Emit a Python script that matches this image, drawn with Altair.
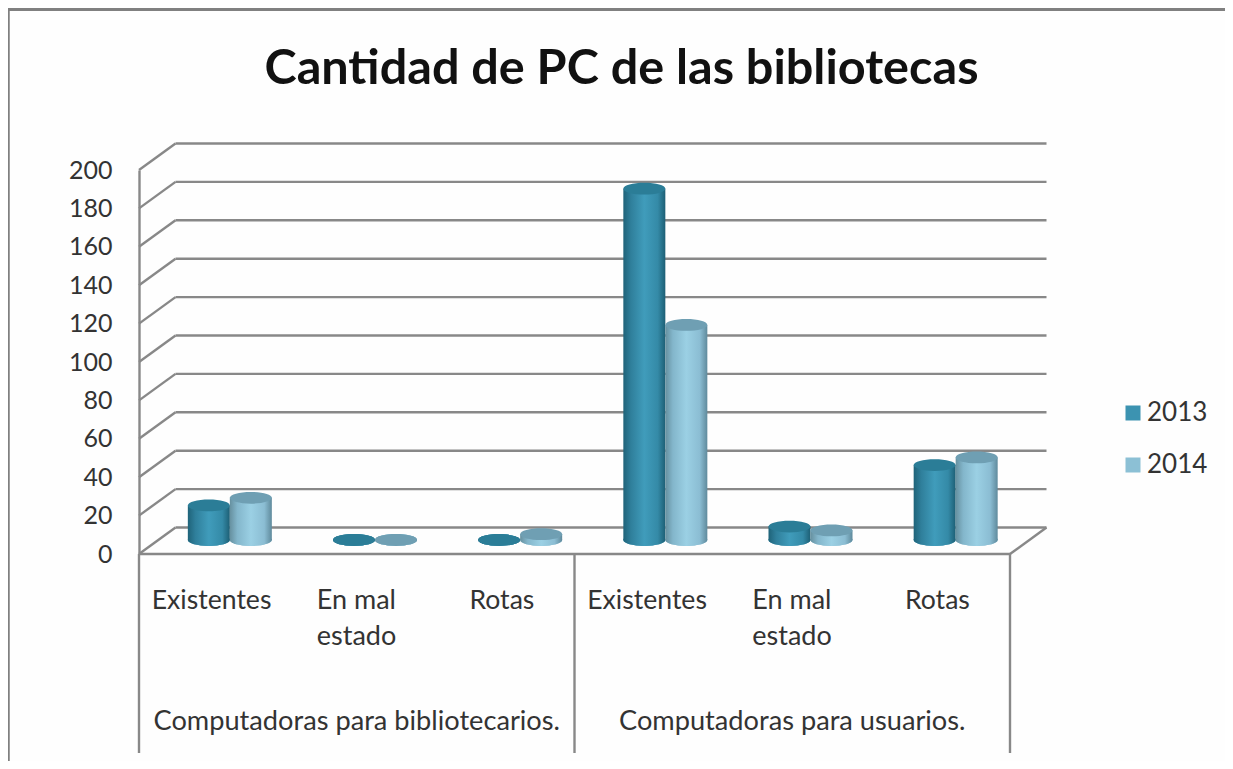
import altair as alt
import pandas as pd

categories = ["Existentes", "En mal\nestado", "Rotas", "Existentes", "En mal\nestado", "Rotas"]
groups = ["Computadoras para bibliotecarios.", "Computadoras para usuarios."]
series_2013 = [18, 0, 0, 183, 7, 39]
series_2014 = [22, 0, 3, 112, 5, 43]
years = ["2013", "2014"]
ticks = [0, 20, 40, 60, 80, 100, 120, 140, 160, 180, 200]

W, H = 871, 384
DX = 36.5 / (W / 6)      # depth of the 3-D box, category units
DY = 26.5 / (H / 200)    # depth of the 3-D box, value units
BAR = 42 / (W / 6)
BASE = 14 / (H / 200)
GREY = "#888888"
FONT = "Lato"

rows = []
for yi, (yr, vals) in enumerate(zip(years, [series_2013, series_2014])):
    for i, v in enumerate(vals):
        c = i + DX / 2 + (yi - 1) * BAR
        rows.append(dict(year=yr, value=v, x0=c, x1=c + BAR, xc=c + BAR / 2,
                         base=BASE, top=v + BASE))
bars = pd.DataFrame(rows)

grid = pd.DataFrame({"v": ticks})
grid["left"] = -0.5
grid["bl"] = -0.5 + DX
grid["br"] = 5.5 + DX
grid["vb"] = grid["v"] + DY

xscale = alt.Scale(domain=[-0.5, 5.5], nice=False, zero=False)
yscale = alt.Scale(domain=[0, 200], nice=False, zero=False)
yaxis = alt.Axis(values=ticks, tickCount=11, title=None, grid=False, ticks=False,
                 domainColor=GREY, domainWidth=2.4, labelOverlap=False, labelFont=FONT,
                 labelFontSize=25, labelColor="#333333", labelPadding=27)
ELL = "M-1,0 A1,0.28 0 1 1 1,0 A1,0.28 0 1 1 -1,0 Z"


def grad(stops):
    return alt.LinearGradient(
        gradient="linear", x1=0, x2=1, y1=0, y2=0,
        stops=[alt.GradientStop(offset=o, color=c) for o, c in stops],
    )


grads = {
    "2013": grad([(0, "#1f6379"), (0.18, "#2f7f9b"), (0.5, "#409cbb"), (0.82, "#348aa7"), (1, "#1d5f75")]),
    "2014": grad([(0, "#66909f"), (0.18, "#83b6cb"), (0.5, "#9bd0e4"), (0.82, "#8bbdd3"), (1, "#5f8a9c")]),
}
tops = {"2013": "#2b7d97", "2014": "#6f9fb3"}

frame_top = alt.Chart(pd.DataFrame({"a": [0]})).mark_rule(color="#808080", strokeWidth=3).encode(
    x=alt.value(-131), x2=alt.value(1086), y=alt.value(-160.5))
frame_left = alt.Chart(pd.DataFrame({"a": [0]})).mark_rule(color="#808080", strokeWidth=2.5).encode(
    x=alt.value(-130.5), y=alt.value(-162), y2=alt.value(591))

diag = alt.Chart(grid).mark_rule(color=GREY, strokeWidth=2.4).encode(
    x=alt.X("left:Q", scale=xscale, axis=None), x2="bl:Q",
    y=alt.Y("v:Q", scale=yscale, axis=yaxis), y2="vb:Q")
back = alt.Chart(grid).mark_rule(color=GREY, strokeWidth=2.4).encode(
    x=alt.X("bl:Q", scale=xscale, axis=None), x2="br:Q",
    y=alt.Y("vb:Q", scale=yscale, axis=yaxis))
floor = pd.DataFrame({"l": [-0.5], "r": [5.5], "r2": [5.5 + DX], "v": [0], "vb": [DY]})
floor_front = alt.Chart(floor).mark_rule(color=GREY, strokeWidth=2.4).encode(
    x=alt.X("l:Q", scale=xscale, axis=None), x2="r:Q", y=alt.Y("v:Q", scale=yscale, axis=yaxis))
floor_side = alt.Chart(floor).mark_rule(color=GREY, strokeWidth=2.4).encode(
    x=alt.X("r:Q", scale=xscale, axis=None), x2="r2:Q", y=alt.Y("v:Q", scale=yscale, axis=yaxis), y2="vb:Q")
seps = alt.Chart(pd.DataFrame({"s": [-0.5, 2.5, 5.5]})).mark_rule(color=GREY, strokeWidth=2.4).encode(
    x=alt.X("s:Q", scale=xscale, axis=None), y=alt.value(H), y2=alt.value(H + 199))

legend_layer = alt.Chart(bars).mark_point(shape=ELL, size=1764, filled=True, opacity=1).encode(
    x=alt.X("xc:Q", scale=xscale, axis=None), y=alt.Y("base:Q", scale=yscale, axis=yaxis),
    color=alt.Color("year:N", scale=alt.Scale(domain=years, range=["#3c93b1", "#8cc0d5"]),
                    legend=alt.Legend(orient="none", legendX=981, legendY=230, title=None,
                                      symbolType="square", symbolSize=225, symbolStrokeWidth=0,
                                      labelFont=FONT, labelFontSize=26, labelColor="#333333",
                                      rowPadding=26, labelOffset=1, padding=0)))
layers = [frame_top, frame_left, diag, back, floor_front, floor_side, seps, legend_layer]
for yr in years:
    d = bars[bars.year == yr]
    layers.append(alt.Chart(d).mark_rect(color=grads[yr]).encode(
        x=alt.X("x0:Q", scale=xscale, axis=None), x2="x1:Q",
        y=alt.Y("base:Q", scale=yscale, axis=yaxis), y2="top:Q"))
    layers.append(alt.Chart(d).mark_point(shape=ELL, size=1764, filled=True, opacity=1, color=grads[yr]).encode(
        x=alt.X("xc:Q", scale=xscale, axis=None), y=alt.Y("base:Q", scale=yscale, axis=yaxis)))
    layers.append(alt.Chart(d).mark_point(shape=ELL, size=1764, filled=True, opacity=1, color=tops[yr]).encode(
        x=alt.X("xc:Q", scale=xscale, axis=None), y=alt.Y("top:Q", scale=yscale, axis=yaxis)))

cats = pd.DataFrame({"label": categories, "i": range(6)})
single = cats[~cats.label.str.contains("\n")]
double = cats[cats.label.str.contains("\n")]
cat1 = alt.Chart(single).mark_text(font=FONT, fontSize=26.6, color="#333333", align="center", baseline="middle").encode(
    x=alt.X("i:Q", scale=xscale, axis=None), y=alt.value(431), text="label:N")
cat2 = alt.Chart(double).mark_text(font=FONT, fontSize=27, color="#333333", align="left", baseline="middle",
                                   lineBreak="\n", lineHeight=36, dx=-40).encode(
    x=alt.X("i:Q", scale=xscale, axis=None), y=alt.value(431), text="label:N")
grp = alt.Chart(pd.DataFrame({"g": groups, "i": [1.0, 4.0]})).mark_text(
    font=FONT, fontSize=27.2, color="#333333", align="center", baseline="middle").encode(
    x=alt.X("i:Q", scale=xscale, axis=None), y=alt.value(552), text="g:N")
layers += [cat1, cat2, grp]

chart = alt.layer(*layers).properties(
    width=W, height=H,
    padding={"left": 131, "top": 162, "right": 215, "bottom": 207},
    autosize=alt.AutoSizeParams(type="none"),
    background="#fefefe",
    title=alt.TitleParams("Cantidad de PC de las bibliotecas", font=FONT, fontSize=48.6, fontWeight="bold",
                          color="#111111", anchor="middle", dx=47, offset=-88),
).configure_view(stroke=None)

chart.save("out.html", embed_options={"renderer": "svg", "actions": False})
